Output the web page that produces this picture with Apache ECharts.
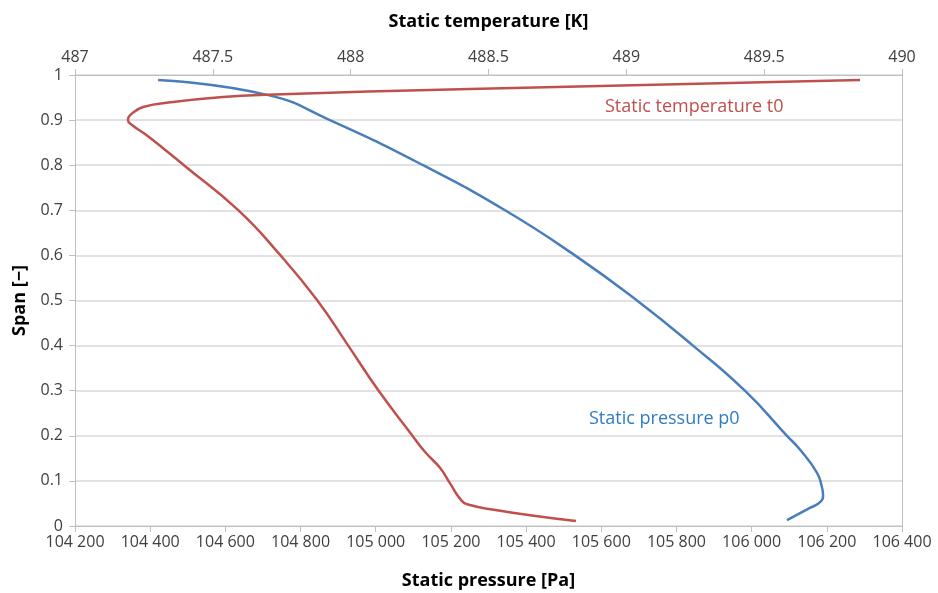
<!DOCTYPE html>
<html>
<head>
<meta charset="utf-8">
<script src="https://cdn.jsdelivr.net/npm/echarts@6/dist/echarts.min.js"></script>
<style>
  html, body { margin: 0; padding: 0; background: #fff; }
  #chart { width: 938px; height: 593px; }
</style>
</head>
<body>
<div id="chart"></div>
<script>
// static pressure p0 (bottom axis, Pa) against span
var p0Pressure = [104421, 104711, 104878, 105126, 105344, 105530, 105695, 105844, 105982, 106094, 106129, 106174, 106187, 106190, 106182, 106155, 106094];
var p0Span     = [0.989, 0.956, 0.900, 0.800, 0.700, 0.600, 0.500, 0.400, 0.300, 0.200, 0.169, 0.118, 0.086, 0.069, 0.053, 0.040, 0.013];

// static temperature t0 (top axis, K) against span
var t0Temp = [489.848, 488.433, 487.696, 487.537, 487.356, 487.247, 487.200, 487.192, 487.207, 487.254, 487.323, 487.395, 487.591, 487.744, 487.878, 487.990, 488.099, 488.222, 488.270, 488.324, 488.360, 488.400, 488.429, 488.531, 488.651, 488.817];
var t0Span = [0.989, 0.969, 0.956, 0.951, 0.940, 0.929, 0.911, 0.900, 0.889, 0.869, 0.836, 0.800, 0.701, 0.601, 0.501, 0.401, 0.302, 0.202, 0.164, 0.129, 0.095, 0.058, 0.047, 0.035, 0.024, 0.011];

function zip(a, b) {
    var out = [];
    for (var i = 0; i < a.length; i++) out.push([a[i], b[i]]);
    return out;
}

var fontName = 'Open Sans';
var tickColor = '#404040';
var lineGray = '#bfbfbf';

option = {
    animation: false,
    backgroundColor: '#fff',
    grid: { left: 75, right: 36, top: 75, bottom: 67, outerBoundsMode: 'none', containLabel: false },
    xAxis: [
        {
            type: 'value',
            position: 'bottom',
            min: 104200, max: 106400, interval: 200,
            name: 'Static pressure [Pa]',
            nameLocation: 'middle',
            nameGap: 46,
            nameTextStyle: { fontFamily: fontName, fontWeight: 'bold', fontSize: 18, color: '#000' },
            axisLine: { show: true, onZero: false, lineStyle: { color: lineGray } },
            axisTick: { show: true, length: 6, lineStyle: { color: lineGray } },
            axisLabel: {
                fontFamily: fontName, fontSize: 16, color: tickColor, margin: 8,
                formatter: function (v) { return String(v).replace(/\B(?=(\d{3})+(?!\d))/g, ' '); }
            },
            splitLine: { show: false }
        },
        {
            type: 'value',
            position: 'top',
            min: 487, max: 490, interval: 0.5,
            name: 'Static temperature [K]',
            nameLocation: 'middle',
            nameGap: 44,
            nameTextStyle: { fontFamily: fontName, fontWeight: 'bold', fontSize: 18, color: '#000' },
            axisLine: { show: true, onZero: false, lineStyle: { color: lineGray } },
            axisTick: { show: true, length: 6, lineStyle: { color: lineGray } },
            axisLabel: { fontFamily: fontName, fontSize: 16, color: tickColor, margin: 10 },
            splitLine: { show: false }
        }
    ],
    yAxis: [
        {
            type: 'value',
            min: 0, max: 1, interval: 0.1,
            name: 'Span [\u2212]',
            nameLocation: 'middle',
            nameGap: 46,
            nameTextStyle: { fontFamily: fontName, fontWeight: 'bold', fontSize: 18, color: '#000' },
            axisLine: { show: true, lineStyle: { color: lineGray } },
            axisTick: { show: true, length: 6, lineStyle: { color: lineGray } },
            axisLabel: { fontFamily: fontName, fontSize: 16, color: tickColor, margin: 12 },
            splitLine: { show: true, lineStyle: { color: '#d9d9d9', width: 1.5 } }
        },
        {
            type: 'value',
            position: 'right',
            min: 0, max: 1, interval: 0.1,
            axisLine: { show: true, lineStyle: { color: lineGray } },
            axisTick: { show: false },
            axisLabel: { show: false },
            splitLine: { show: false }
        }
    ],
    series: [
        {
            name: 'Static pressure p0',
            type: 'line',
            xAxisIndex: 0,
            yAxisIndex: 0,
            data: zip(p0Pressure, p0Span),
            smooth: 0.5,
            showSymbol: false,
            lineStyle: { color: '#4a7ebb', width: 2.5 }
        },
        {
            name: 'Static temperature t0',
            type: 'line',
            xAxisIndex: 1,
            yAxisIndex: 0,
            data: zip(t0Temp, t0Span),
            smooth: 0.5,
            showSymbol: false,
            lineStyle: { color: '#c0504d', width: 2.5 }
        }
    ],
    graphic: [
        {
            type: 'text', left: 605, top: 98,
            style: { text: 'Static temperature t0', fontFamily: fontName, fontSize: 18, fill: '#c0504d' }
        },
        {
            type: 'text', left: 589, top: 410,
            style: { text: 'Static pressure p0', fontFamily: fontName, fontSize: 18, fill: '#2f7cc4' }
        }
    ]
};

var mychart = echarts.init(document.getElementById('chart'));
mychart.setOption(option);
</script>
</body>
</html>
